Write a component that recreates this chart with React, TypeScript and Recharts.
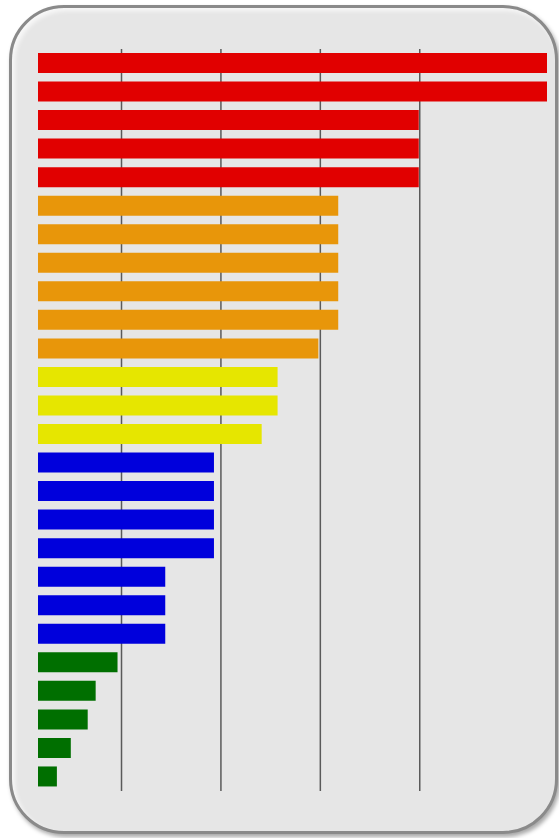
import React from 'react';
import { BarChart, Bar, XAxis, YAxis, CartesianGrid, Cell } from 'recharts';

// values, one unit = one grid step
const redValues = [5.28, 5.28, 3.99, 3.99, 3.99];
const orangeValues = [3.18, 3.18, 3.18, 3.18, 3.18, 2.98];
const yellowValues = [2.57, 2.57, 2.41];
const blueValues = [1.93, 1.93, 1.93, 1.93, 1.44, 1.44, 1.44];
const greenValues = [0.96, 0.74, 0.66, 0.49, 0.35];

const groupColors = {
  red: '#e10000',
  orange: '#e8960a',
  yellow: '#e6e600',
  blue: '#0000dc',
  green: '#006f00',
};

const gridTicks = [1, 2, 3, 4];
const valueDomain: [number, number] = [0.16, 5.28];

const groups: [keyof typeof groupColors, number[]][] = [
  ['red', redValues],
  ['orange', orangeValues],
  ['yellow', yellowValues],
  ['blue', blueValues],
  ['green', greenValues],
];

const data = groups.flatMap(([group, values]) =>
  values.map((value, i) => ({ name: `${group}-${i + 1}`, group, value }))
);

// only the inner ticks get a grid line, no lines on the plot edges
const gridX = ({ offset }: any) => {
  const [d0, d1] = valueDomain;
  return gridTicks.map((t) => offset.left + ((t - d0) / (d1 - d0)) * offset.width);
};

const App = () => {
  return (
    <div style={{ position: 'absolute', left: 0, top: 0, width: 559, height: 838, background: '#fff', overflow: 'hidden' }}>
      {/* rounded panel */}
      <div
        style={{
          position: 'absolute',
          left: 9,
          top: 5,
          width: 543,
          height: 823,
          borderRadius: 55,
          background: '#e6e6e6',
          border: '3px solid #8a8a8a',
          boxShadow: 'inset 3px 3px 4px rgba(255,255,255,0.7), 2px 3px 4px rgba(0,0,0,0.35)',
        }}
      />
      <div style={{ position: 'absolute', left: 0, top: 0 }}>
        <BarChart
          width={559}
          height={838}
          data={data}
          layout="vertical"
          margin={{ top: 49, right: 12, bottom: 47, left: 38 }}
          barSize={20}
        >
          <CartesianGrid horizontal={false} stroke="#5a5a5a" strokeWidth={1.5} verticalCoordinatesGenerator={gridX} />
          <XAxis type="number" domain={valueDomain} ticks={gridTicks} hide allowDataOverflow />
          <YAxis type="category" dataKey="name" hide />
          <Bar dataKey="value" isAnimationActive={false}>
            {data.map((d) => (
              <Cell key={d.name} fill={groupColors[d.group]} />
            ))}
          </Bar>
        </BarChart>
      </div>
    </div>
  );
};

export default App;
